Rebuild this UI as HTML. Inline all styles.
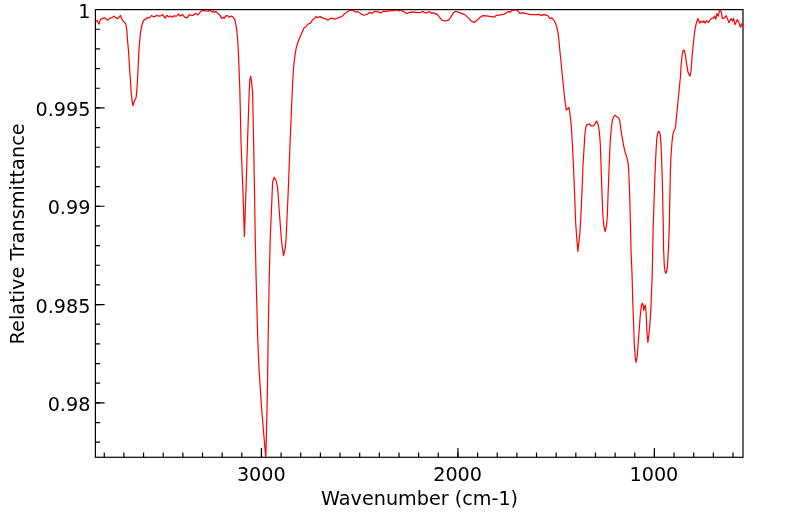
<!DOCTYPE html>
<html><head><meta charset="utf-8"><title>Spectrum</title>
<style>
html,body{margin:0;padding:0;background:#fff;}
svg{display:block;}
text{font-family:"DejaVu Sans","Liberation Sans",sans-serif;font-size:19.2px;fill:#000;}
</style></head><body>
<svg width="799" height="516" viewBox="0 0 799 516">
<defs><clipPath id="c"><rect x="95.4" y="9.6" width="647.65" height="447.7"/></clipPath></defs>
<rect width="799" height="516" fill="#fff"/>
<path d="M95.4 29.26h4.7M95.4 48.93h4.7M95.4 68.59h4.7M95.4 88.26h4.7M95.4 107.92h4.7M95.4 127.58h4.7M95.4 147.25h4.7M95.4 166.91h4.7M95.4 186.58h4.7M95.4 206.24h4.7M95.4 225.90h4.7M95.4 245.57h4.7M95.4 265.23h4.7M95.4 284.90h4.7M95.4 304.56h4.7M95.4 324.22h4.7M95.4 343.89h4.7M95.4 363.55h4.7M95.4 383.22h4.7M95.4 402.88h4.7M95.4 422.54h4.7M95.4 442.21h4.7M104.27 457.3v-4.9M123.91 457.3v-4.9M143.56 457.3v-4.9M163.21 457.3v-4.9M182.86 457.3v-4.9M202.51 457.3v-4.9M222.15 457.3v-4.9M241.80 457.3v-4.9M261.45 457.3v-4.9M281.10 457.3v-4.9M300.75 457.3v-4.9M320.39 457.3v-4.9M340.04 457.3v-4.9M359.69 457.3v-4.9M379.34 457.3v-4.9M398.99 457.3v-4.9M418.63 457.3v-4.9M438.28 457.3v-4.9M457.93 457.3v-4.9M477.58 457.3v-4.9M497.23 457.3v-4.9M516.87 457.3v-4.9M536.52 457.3v-4.9M556.17 457.3v-4.9M575.82 457.3v-4.9M595.47 457.3v-4.9M615.11 457.3v-4.9M634.76 457.3v-4.9M654.41 457.3v-4.9M674.06 457.3v-4.9M693.71 457.3v-4.9M713.35 457.3v-4.9M733.00 457.3v-4.9" stroke="#000" stroke-width="1.2" fill="none"/>
<path d="M95.4 107.92h9.2M95.4 206.24h9.2M95.4 304.56h9.2M95.4 402.88h9.2M261.45 457.3v-9.2M457.93 457.3v-9.2M654.41 457.3v-9.2" stroke="#000" stroke-width="1.2" fill="none"/>
<rect x="95.4" y="9.6" width="647.6" height="447.7" fill="none" stroke="#000" stroke-width="1.2"/>
<path clip-path="url(#c)" d="M95.5 21.4 L97.1 20.5 L98.9 24.2 L100.6 19.1 L102.6 18.6 L104.6 17.6 L106.1 19.1 L107.9 20.2 L110.2 17.9 L111.7 17.9 L113.9 16.1 L115.7 17.6 L117.7 18.6 L119.2 17.1 L120.5 15.4 L121.7 19.1 L123.8 21.7 L125.8 23.7 L126.8 30.2 L127.5 40.0 L128.7 53.1 L129.7 70.2 L130.4 80.0 L131.0 90.1 L132.0 100.2 L132.9 105.7 L134.3 101.2 L136.1 97.6 L136.8 90.1 L137.5 80.0 L138.0 70.2 L138.8 53.1 L139.6 42.3 L140.4 33.2 L141.9 25.2 L143.4 20.7 L144.9 19.3 L146.4 18.9 L147.4 17.3 L148.9 18.1 L150.5 16.6 L151.7 15.4 L153.0 16.6 L155.0 16.6 L157.0 15.3 L158.5 16.1 L160.5 15.9 L162.7 14.6 L165.1 18.1 L167.0 15.3 L169.0 17.1 L170.2 15.9 L171.9 17.1 L174.1 15.9 L176.6 16.1 L178.6 14.1 L180.3 16.1 L182.6 14.6 L184.6 17.1 L187.2 17.9 L189.2 14.6 L191.2 15.3 L193.2 15.3 L195.7 13.6 L198.0 14.9 L199.8 12.6 L201.8 10.4 L205.3 10.9 L208.3 11.1 L210.3 10.1 L211.9 12.1 L213.2 10.9 L214.4 12.3 L215.9 11.3 L217.9 13.6 L219.9 15.1 L221.6 18.3 L222.9 17.3 L224.2 18.3 L226.0 15.6 L228.0 15.9 L229.5 17.3 L231.3 16.1 L233.5 17.6 L235.0 20.2 L236.5 28.2 L237.5 38.3 L238.4 52.0 L239.1 70.2 L239.9 92.0 L241.0 142.0 L242.9 190.0 L244.4 236.5 L246.0 190.0 L247.5 142.0 L249.2 92.0 L249.8 80.3 L250.7 76.1 L251.6 82.3 L252.6 92.0 L253.6 142.0 L254.5 192.0 L255.3 242.0 L256.4 290.0 L257.8 340.0 L258.8 365.2 L260.5 392.0 L261.7 410.0 L265.8 458.0 L267.0 410.0 L267.4 392.0 L268.1 342.0 L269.0 290.0 L270.1 242.0 L272.2 192.0 L272.6 182.3 L274.2 177.3 L276.4 181.3 L277.6 188.0 L281.4 240.0 L282.4 248.1 L283.6 255.6 L285.2 248.1 L286.0 240.0 L288.2 192.0 L290.1 142.0 L292.3 90.0 L292.8 80.3 L293.7 66.2 L295.0 55.1 L296.2 48.0 L297.6 43.3 L300.1 36.8 L302.1 32.2 L304.1 27.7 L306.1 26.7 L307.6 24.2 L310.2 23.4 L312.7 19.6 L314.7 18.4 L316.0 16.3 L317.2 17.6 L320.2 16.6 L323.2 18.1 L326.3 19.1 L327.8 20.2 L329.8 18.6 L332.3 18.3 L334.8 19.1 L337.4 18.3 L339.9 17.1 L341.9 16.6 L343.9 14.3 L346.4 12.6 L349.4 10.4 L352.5 10.1 L355.5 12.1 L358.0 11.6 L360.5 13.6 L364.1 15.3 L367.3 14.3 L370.2 12.3 L372.1 13.6 L374.6 11.3 L378.1 11.9 L380.9 12.9 L383.6 11.1 L386.7 11.4 L390.2 10.6 L393.7 10.6 L396.4 9.8 L398.8 10.9 L400.8 10.1 L403.8 11.6 L406.8 13.6 L409.8 12.3 L413.4 11.9 L416.4 12.6 L420.9 12.3 L422.9 11.4 L425.5 13.1 L429.5 11.6 L431.5 13.3 L433.5 12.9 L437.5 14.6 L440.1 18.0 L442.3 20.3 L445.0 21.0 L448.6 20.2 L450.6 17.6 L453.1 13.1 L455.6 11.3 L460.2 12.9 L464.7 14.6 L468.7 18.1 L471.2 21.0 L474.3 22.4 L476.8 20.5 L479.8 17.6 L482.8 15.6 L486.3 15.9 L491.4 16.6 L494.4 17.1 L496.4 15.3 L500.5 14.9 L504.0 14.3 L508.5 11.6 L510.5 12.1 L512.0 10.4 L515.6 9.8 L517.8 10.9 L520.0 13.3 L522.6 12.6 L526.1 13.6 L531.1 14.6 L535.2 14.6 L539.2 14.3 L541.0 15.6 L543.2 14.6 L545.7 14.9 L547.7 15.6 L549.8 18.3 L552.1 18.1 L553.8 20.2 L555.5 23.2 L556.8 27.2 L558.1 33.2 L559.1 42.3 L560.0 52.0 L564.8 100.0 L565.6 105.1 L566.3 110.1 L567.6 108.6 L568.9 107.3 L569.9 113.1 L571.2 125.2 L572.5 146.0 L573.4 165.2 L574.7 196.0 L575.6 222.0 L576.7 237.3 L577.9 251.4 L578.9 242.0 L579.7 235.3 L580.7 220.0 L581.8 196.0 L583.0 165.2 L584.2 146.0 L584.8 135.3 L585.8 127.2 L586.8 124.7 L589.3 124.0 L591.3 126.0 L593.3 126.0 L594.8 124.2 L596.5 121.0 L597.9 123.7 L599.1 129.8 L599.9 138.3 L600.4 146.0 L601.2 170.2 L602.1 196.0 L602.9 215.2 L603.9 226.2 L605.1 231.5 L606.4 226.2 L607.4 215.2 L608.0 196.0 L609.2 165.2 L610.0 146.0 L610.5 137.3 L611.5 126.2 L612.5 119.7 L613.7 116.7 L615.0 115.2 L616.5 116.7 L618.5 117.7 L619.7 120.2 L621.0 130.3 L622.5 139.3 L623.7 146.0 L625.1 152.1 L627.1 158.1 L628.4 165.2 L629.0 177.0 L629.7 196.0 L630.5 226.0 L631.0 250.2 L632.1 276.0 L632.7 300.2 L633.6 323.0 L634.3 345.2 L635.3 358.3 L636.1 362.5 L637.3 355.3 L638.8 335.1 L639.7 323.0 L640.3 315.3 L641.3 306.2 L642.3 303.0 L643.1 305.2 L643.8 310.3 L644.5 307.2 L645.3 305.0 L646.1 312.3 L646.6 323.0 L646.9 332.1 L647.9 342.4 L649.2 332.1 L650.0 323.0 L650.9 308.2 L651.6 290.1 L652.2 276.0 L653.2 226.0 L654.9 176.0 L655.8 155.2 L656.8 138.1 L657.8 132.6 L658.8 131.2 L660.0 133.6 L660.8 141.1 L661.5 155.2 L662.2 176.0 L663.3 227.0 L663.6 250.2 L664.3 265.3 L665.0 271.3 L665.8 273.4 L666.6 271.5 L667.4 267.3 L668.4 250.2 L669.3 226.0 L670.3 176.0 L670.9 157.2 L671.9 143.1 L672.9 134.1 L673.9 131.0 L675.2 128.5 L675.7 125.0 L678.1 100.2 L680.4 77.0 L681.1 65.3 L682.1 55.2 L683.1 50.4 L684.1 50.2 L685.2 54.2 L686.7 64.3 L688.0 72.3 L690.0 76.2 L691.0 71.3 L692.2 55.2 L693.7 40.0 L695.0 29.0 L696.7 21.7 L698.0 18.6 L699.7 23.2 L701.2 21.2 L702.7 22.7 L703.8 20.7 L705.1 23.2 L706.5 20.7 L708.3 22.7 L710.3 19.6 L711.8 18.3 L713.5 17.9 L714.5 16.1 L715.8 19.1 L716.9 13.6 L718.2 16.1 L719.4 11.1 L720.4 9.8 L721.4 12.6 L722.4 18.6 L724.4 17.9 L726.2 15.6 L727.6 19.1 L728.9 22.7 L731.0 18.6 L732.5 21.2 L733.5 18.3 L735.0 24.7 L737.3 19.6 L739.0 22.7 L740.5 27.2 L741.7 23.7 L742.7 26.4 L743.2 25.5" fill="none" stroke="#f00" stroke-width="1.2" stroke-linejoin="round"/>
<text x="90.4" y="17.7" text-anchor="end">1</text>
<text x="90.4" y="116.0" text-anchor="end">0.995</text>
<text x="90.4" y="214.3" text-anchor="end">0.99</text>
<text x="90.4" y="312.7" text-anchor="end">0.985</text>
<text x="90.4" y="411.0" text-anchor="end">0.98</text>
<text x="261.3" y="481" text-anchor="middle">3000</text>
<text x="457.6" y="481" text-anchor="middle">2000</text>
<text x="653.9" y="481" text-anchor="middle">1000</text>
<text x="419.6" y="505.2" text-anchor="middle">Wavenumber (cm-1)</text>
<text transform="translate(24,233.9) rotate(-90)" text-anchor="middle" style="font-size:19.35px">Relative Transmittance</text>
</svg>
</body></html>
